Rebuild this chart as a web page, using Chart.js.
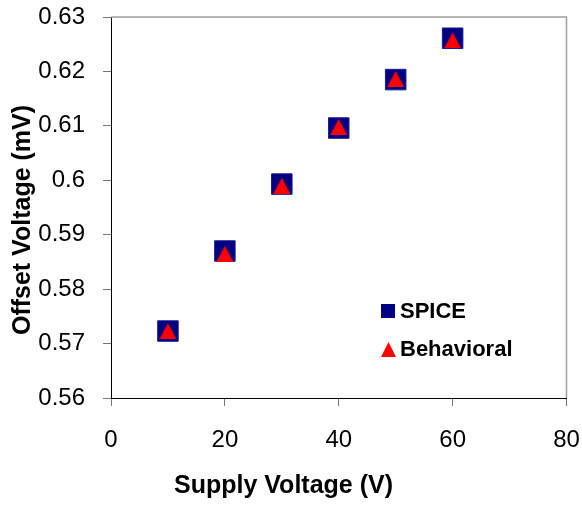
<!DOCTYPE html>
<html>
<head>
<meta charset="utf-8">
<script src="https://cdn.jsdelivr.net/npm/chart.js@4.4.0/dist/chart.umd.min.js"></script>
<style>
  html, body { margin: 0; padding: 0; background: #fff; }
</style>
</head>
<body>
<canvas id="myChart" width="582" height="508"></canvas>
<script>
// data
const supplyVoltage = [10, 20, 30, 40, 50, 60];
const spiceOffset = [0.5723, 0.587, 0.5993, 0.6096, 0.6185, 0.6261];
const behavioralOffset = [0.5723, 0.5865, 0.599, 0.6098, 0.6186, 0.6257];
const seriesNames = ["SPICE", "Behavioral"];
const xTitle = "Supply Voltage (V)";
const yTitle = "Offset Voltage (mV)";

const navy = "#000080";
const red = "#ff0000";
const font = "'Liberation Sans', Arial, sans-serif";

// triangle marker centred on its box, like Excel does
function triangleMarker(w, h, color) {
  const c = document.createElement("canvas");
  c.width = w;
  c.height = h;
  const g = c.getContext("2d");
  g.fillStyle = color;
  g.beginPath();
  g.moveTo(w / 2, 0);
  g.lineTo(w, h);
  g.lineTo(0, h);
  g.closePath();
  g.fill();
  return c;
}
const triangle = triangleMarker(17, 16, red);

const toPoints = (ys) => supplyVoltage.map((x, i) => ({ x: x, y: ys[i] }));

// gray top/right frame, legend inside the plot, rotated y title
const extras = {
  id: "extras",
  beforeDatasetsDraw(chart) {
    const { ctx, chartArea: a } = chart;
    ctx.save();
    ctx.strokeStyle = "#a0a0a0";
    ctx.lineWidth = 1.5;
    ctx.beginPath();
    ctx.moveTo(a.left, a.top);
    ctx.lineTo(a.right, a.top);
    ctx.lineTo(a.right, a.bottom);
    ctx.stroke();
    ctx.restore();
  },
  afterDraw(chart) {
    const ctx = chart.ctx;
    ctx.save();
    // legend
    ctx.fillStyle = navy;
    ctx.fillRect(381, 304, 14, 14);
    ctx.fillStyle = red;
    ctx.beginPath();
    ctx.moveTo(388.5, 342);
    ctx.lineTo(396, 357);
    ctx.lineTo(381, 357);
    ctx.closePath();
    ctx.fill();
    ctx.fillStyle = "#000";
    ctx.font = "bold 22px " + font;
    ctx.textBaseline = "middle";
    ctx.fillText(chart.data.datasets[1].label, 400, 312);
    ctx.fillText(chart.data.datasets[0].label, 400, 350);
    // y title
    ctx.translate(23, 220);
    ctx.rotate(-Math.PI / 2);
    ctx.textAlign = "center";
    ctx.font = "bold 25px " + font;
    ctx.fillText(yTitle, 0, 0);
    ctx.restore();
  },
};

let myChart = document.getElementById("myChart").getContext("2d");
let chart1 = new Chart(myChart, {
  type: "scatter",
  data: {
    datasets: [
      {
        label: seriesNames[1],
        data: toPoints(behavioralOffset),
        pointStyle: triangle,
        order: 1,
      },
      {
        label: seriesNames[0],
        data: toPoints(spiceOffset),
        pointStyle: "rect",
        pointRadius: 14.5,
        pointHoverRadius: 14.5,
        backgroundColor: navy,
        borderColor: "#1a1a99",
        borderWidth: 1,
        order: 2,
      },
    ],
  },
  options: {
    responsive: false,
    animation: false,
    layout: { padding: { top: 17, right: 15, left: 0, bottom: 0 } },
    plugins: {
      legend: { display: false },
      tooltip: { enabled: false },
      title: {
        display: true,
        position: "bottom",
        text: xTitle,
        color: "#000",
        font: { family: font, size: 25, weight: "bold", lineHeight: 1.2 },
        padding: { top: 0, bottom: 7 },
      },
    },
    scales: {
      x: {
        type: "linear",
        min: 0,
        max: 80,
        ticks: {
          stepSize: 20,
          color: "#000",
          padding: 20,
          maxRotation: 0,
          font: { family: font, size: 24 },
        },
        grid: { drawOnChartArea: false, tickLength: 8, color: "#777" },
        border: { color: "#000", width: 1 },
        afterFit: (scale) => {
          scale.height = 73;
          scale.paddingLeft = 0;
          scale.paddingRight = 0;
        },
      },
      y: {
        min: 0.56,
        max: 0.63,
        ticks: {
          stepSize: 0.01,
          color: "#000",
          padding: 18,
          font: { family: font, size: 24 },
          callback: (v) => String(parseFloat(v.toFixed(2))),
        },
        grid: { drawOnChartArea: false, tickLength: 8, color: "#777" },
        border: { color: "#000", width: 1 },
        afterFit: (scale) => {
          scale.width = 111;
          scale.paddingTop = 0;
          scale.paddingBottom = 0;
        },
      },
    },
  },
  plugins: [extras],
});
</script>
</body>
</html>
